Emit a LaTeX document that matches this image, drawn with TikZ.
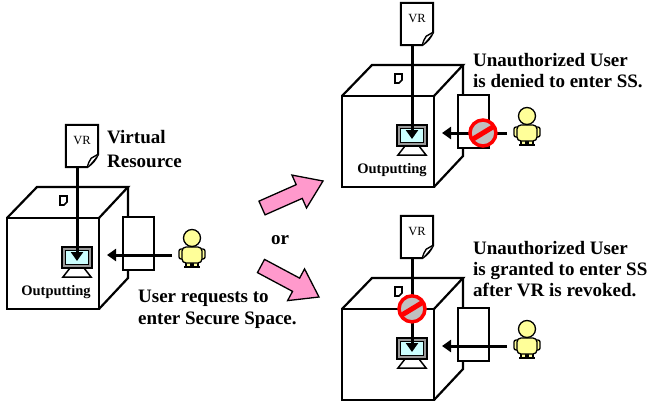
\documentclass[tikz,border=0pt]{standalone}
\usepackage{fontspec}
\setmainfont{Liberation Serif}
\usetikzlibrary{calc, arrows.meta}
\definecolor{arrowpink}{RGB}{255, 153, 204}
\definecolor{screenblue}{RGB}{204, 255, 255}
\definecolor{userfill}{RGB}{255, 255, 153}
\definecolor{signgray}{RGB}{192, 192, 192}
\definecolor{signred}{RGB}{255, 0, 0}
\tikzset{
    cubeline/.style={line width=2.2pt},
    flow/.style={line width=3pt, -{Triangle[length=9pt, width=12pt]}},
    note/.style={font=\bfseries\fontsize{19}{21}\selectfont, align=left,
        inner sep=0pt},
    outlabel/.style={font=\bfseries\fontsize{14.5}{16}\selectfont,
        inner sep=0pt},
    docnode/.style={font=\fontsize{12.5}{14}\selectfont, text depth=12pt,
        minimum width=32pt, minimum height=42pt, inner sep=0pt},
    person/.pic={
        \draw[line width=1.3pt, fill=userfill, rounded corners=2pt]
            (-13, 11) rectangle (-8, 21) (8, 11) rectangle (13, 21);
        \draw[line width=1.3pt, fill=userfill]
            (-6, 23) rectangle (-1, 29) (1, 23) rectangle (6, 29);
        \draw[line width=1.3pt, fill=userfill, rounded corners=4pt]
            (-10, 9) rectangle (10, 25);
        \draw[line width=2.6pt] (-8, 29) -- (-1, 29) (1, 29) -- (8, 29);
        \draw[line width=1.3pt, fill=userfill] (0, 0) circle (8.5);
    },
    nosign/.pic={
        \fill[signgray] (0, 0) circle (13);
        \begin{scope}
            \clip (0, 0) circle (13);
            \draw[signred, line width=5pt] (-14, 8.5) -- (14, -8.5);
        \end{scope}
        \draw[signred, line width=3.5pt] (0, 0) circle (13);
    },
    box/.pic={
        % cube, origin at the front top-left corner
        \draw[cubeline, fill=white] (0, 0) rectangle (92, 91);
        \draw[cubeline] (0, 0) -- (30, -31) -- (121, -31) -- (92, 0);
        \draw[cubeline] (121, -31) -- (121, 60) -- (92, 91);
        \draw[cubeline, fill=white] (116, -1) rectangle (147, 52);
        \draw[line width=1.6pt, fill=white] (53, -22) -- (60, -22)
            -- (60, -16) -- (57, -13) -- (53, -13) -- cycle;
        % monitor
        \draw[line width=1.2pt, fill=black!40] (55, 29) rectangle (85, 50);
        \draw[line width=1pt, fill=screenblue] (58.5, 32.5) rectangle (81.5, 46.5);
        \draw[line width=1.5pt, fill=white] (63, 50) -- (77, 50) -- (84, 59)
            -- (56, 59) -- cycle;
        \coordinate (-screen) at (70, 43);
        \coordinate (-entry) at (100, 37);
        \coordinate (-user) at (165, 37);
        % virtual resource
        \node[docnode] (-doc) at (75, -72) {VR};
        \draw[line width=2pt, fill=white] (-doc.north west) -- (-doc.north east)
            -- ([yshift=13pt]-doc.south east)
            to[bend left=15] ([xshift=-11pt]-doc.south east)
            -- (-doc.south west) -- cycle;
        \draw[line width=1.4pt, fill=white] ([yshift=13pt]-doc.south east)
            -- ([xshift=-7pt, yshift=9pt]-doc.south east)
            to[bend right=10] ([xshift=-11pt]-doc.south east);
        \node[docnode] at (-doc) {VR};
        \pic at (185, 20) {person};
    },
}
\newcommand{\pinkarrow}[2]{%
    \coordinate (#1-neck) at ($(#2)!26pt!(#1)$);
    \draw[line width=1.3pt, fill=arrowpink, line join=miter]
        ($(#1)!7.5pt!90:(#2)$) -- ($(#1-neck)!7.5pt!90:(#2)$)
        -- ($(#1-neck)!18pt!90:(#2)$) -- (#2)
        -- ($(#1-neck)!18pt!-90:(#2)$) -- ($(#1-neck)!7.5pt!-90:(#2)$)
        -- ($(#1)!7.5pt!-90:(#2)$) -- cycle;
}
\begin{document}
\begin{tikzpicture}[x=1pt, y=-1pt]
    \useasboundingbox (0, 0) rectangle (650, 404);
    \pic (L) at (7, 218) {box};
    \pic (T) at (342, 96) {box};
    \pic (B) at (342, 309) {box};
    \foreach \s in {L, T, B} {
        \draw[flow] (\s-doc.south -| \s-screen) -- (\s-screen);
        \draw[flow] (\s-user) -- (\s-entry);
    }
    \pic at ($(T-user)!.37!(T-entry)$) {nosign};
    \pic at ($(B-doc.south -| B-screen)!.54!(B-screen)$) {nosign};

    \node[outlabel] (L-out) at ($(L-screen)+(-21, 31)$) {Outputting};
    \node[outlabel] (T-out) at ($(T-screen)+(-20, 31)$) {Outputting};

    \node[note, anchor=north west, font=\bfseries\fontsize{19}{24}\selectfont]
        (vr-note) at (107, 130) {Virtual\\Resource};
    \node[note, anchor=north west, font=\bfseries\fontsize{19}{22}\selectfont]
        (ask-note) at (138, 290) {User requests to\\enter Secure Space.};
    \node[note] (or) at (280, 240) {or};
    \node[note, anchor=north west] (deny-note) at (473, 53)
        {Unauthorized User\\is denied to enter SS.};
    \node[note, anchor=north west] (grant-note) at (473, 241)
        {Unauthorized User\\is granted to enter SS\\after VR is revoked.};

    \coordinate (up-tail) at (262, 208);
    \coordinate (up-tip) at (323, 181);
    \coordinate (down-tail) at (261, 266);
    \coordinate (down-tip) at (319, 297);
    \pinkarrow{up-tail}{up-tip}
    \pinkarrow{down-tail}{down-tip}
\end{tikzpicture}
\end{document}
